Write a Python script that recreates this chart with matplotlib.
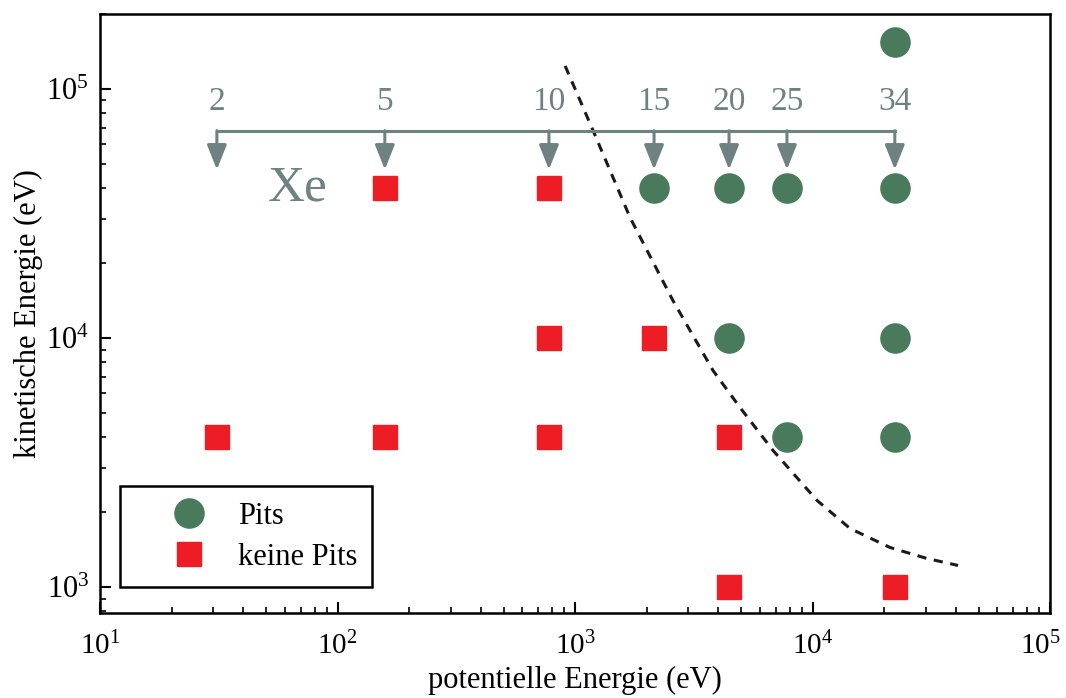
import matplotlib
matplotlib.use("Agg")
import matplotlib.pyplot as plt
from matplotlib.transforms import ScaledTranslation

plt.rcParams['font.family'] = ['Liberation Serif', 'DejaVu Serif']
plt.rcParams['mathtext.fontset'] = 'custom'
plt.rcParams['mathtext.rm'] = 'Liberation Serif'

# Xe charge states and their potential energy (eV)
charge_states = [2, 5, 10, 15, 20, 25, 34]
charge_energy = [31, 158, 776, 2150, 4450, 7800, 22200]

# impacts producing pits
pits_pot = [2150, 4450, 7800, 22200, 4450, 22200, 7800, 22200, 22200]
pits_kin = [40000, 40000, 40000, 40000, 10000, 10000, 4000, 4000, 154000]

# impacts without pits
nopits_pot = [158, 776, 776, 2150, 31, 158, 776, 4450, 4450, 22200]
nopits_kin = [40000, 40000, 10000, 10000, 4000, 4000, 4000, 4000, 1000, 1000]

# threshold curve (dashed)
thr_pot = [908, 1191, 1706, 2588, 3811, 4955, 6820, 10440, 14390, 21200, 30300, 41000]
thr_kin = [123700, 68000, 30400, 14100, 7410, 5260, 3540, 2233, 1722, 1445, 1306, 1224]

green = '#4a7a5c'
red = '#ee1c25'
grey = '#6e8282'

fig = plt.figure(figsize=(10.66, 6.98), dpi=100)
ax = fig.add_axes([0.094, 0.122, 0.891, 0.858])

ax.plot(thr_pot, thr_kin, '--', color='#1a1a1a', lw=2.2, dashes=(3, 2.5))
ax.plot(pits_pot, pits_kin, 'o', ms=21, color=green, ls='none', label='Pits')
ax.plot(nopits_pot, nopits_kin, 's', ms=17, color=red, ls='none', label='keine Pits')

ax.set_xscale('log')
ax.set_yscale('log')
ax.set_xlim(10, 1e5)
ax.set_ylim(790, 2e5)

# charge state arrows
y_bar = 68000
y_tip = 47500
ax.plot([charge_energy[0], charge_energy[-1]], [y_bar, y_bar], color=grey, lw=2.2)
for q, e in zip(charge_states, charge_energy):
    ax.annotate('', xy=(e, y_tip), xytext=(e, y_bar),
                arrowprops=dict(arrowstyle='-|>,head_length=1.5,head_width=0.6',
                                color=grey, lw=2.2, shrinkA=0, shrinkB=0))
    ax.text(e, 89000, str(q), color=grey, fontsize=24, ha='center', va='center')
ax.text(68, 40000, 'Xe', color=grey, fontsize=37, ha='center', va='center')

ax.set_xlabel('potentielle Energie (eV)', fontsize=22, labelpad=4)
ax.set_ylabel('kinetische Energie (eV)', fontsize=22, labelpad=2)

ax.tick_params(which='both', direction='in', top=False, right=False, labelsize=22)
ax.tick_params(which='major', length=8, width=1.5)
ax.tick_params(which='minor', length=4, width=1.2)
ax.tick_params(axis='x', pad=14, labelsize=21)
ax.tick_params(axis='y', pad=8)
for sp in ax.spines.values():
    sp.set_linewidth(1.8)

leg = ax.legend(loc='lower left', bbox_to_anchor=(0.021, 0.043), fontsize=22,
                frameon=True, fancybox=False, edgecolor='black', framealpha=1,
                borderpad=0.5, handletextpad=-0.15, labelspacing=0.4,
                borderaxespad=0, handlelength=3.5)
leg.get_frame().set_linewidth(1.8)

# keep the 10^5 label inside the figure edge
fig.canvas.draw()
for tick in ax.xaxis.get_major_ticks():
    if abs(tick.get_loc() - 1e5) < 1:
        lbl = tick.label1
        lbl.set_transform(lbl.get_transform() + ScaledTranslation(-0.1, 0, fig.dpi_scale_trans))

fig.savefig('out.png', dpi=100)
